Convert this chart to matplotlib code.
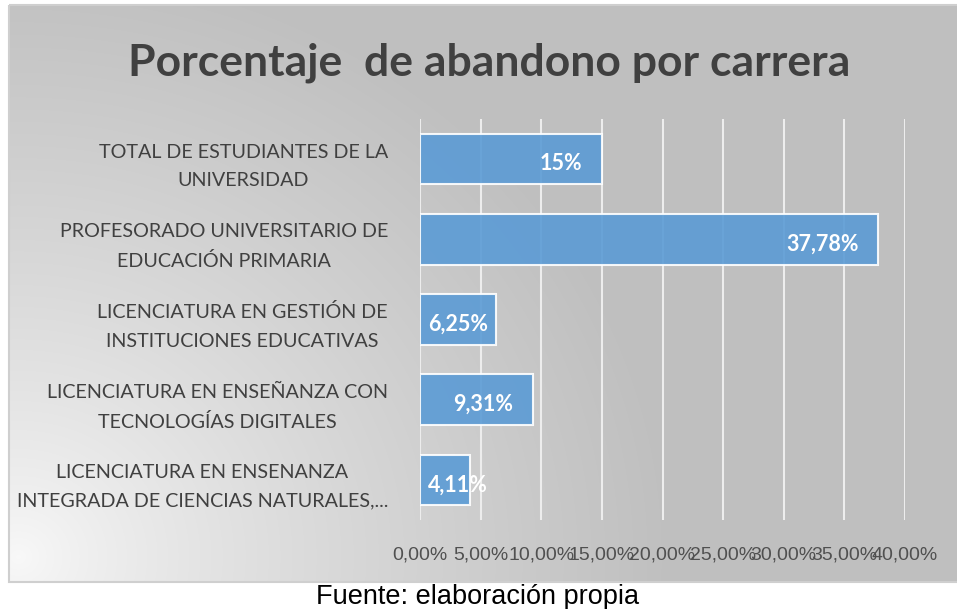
import numpy as np
import matplotlib.pyplot as plt
from matplotlib.patches import Rectangle

# datos
carreras = [
    'TOTAL DE ESTUDIANTES DE LA\nUNIVERSIDAD',
    'PROFESORADO UNIVERSITARIO DE\nEDUCACIÓN PRIMARIA',
    'LICENCIATURA EN GESTIÓN DE\nINSTITUCIONES EDUCATIVAS',
    'LICENCIATURA EN ENSEÑANZA CON\nTECNOLOGÍAS DIGITALES',
    'LICENCIATURA EN ENSENANZA\nINTEGRADA DE CIENCIAS NATURALES,...',
]
abandono = [15.0, 37.78, 6.25, 9.31, 4.11]
etiquetas = ['15%', '37,78%', '6,25%', '9,31%', '4,11%']
ticks_x = [0, 5, 10, 15, 20, 25, 30, 35, 40]
ticks_txt = ['0,00%', '5,00%', '10,00%', '15,00%', '20,00%', '25,00%', '30,00%', '35,00%', '40,00%']

W, H = 957, 609
fig = plt.figure(figsize=(W / 100, H / 100), dpi=100)

# fondo degradado (claro abajo a la izquierda, gris arriba a la derecha)
fondo = fig.add_axes([0, 0, 1, 1])
fondo.set_xlim(0, W)
fondo.set_ylim(H, 0)
fondo.axis('off')
xx, yy = np.meshgrid(np.arange(W), np.arange(H))
d = np.sqrt((xx - 9) ** 2 + ((582 - yy) * 1.05) ** 2)
t = np.clip(d / 660, 0, 1) ** 0.8
gris = 0.975 * (1 - t) + 0.75 * t
img = np.dstack([gris, gris, gris])
fondo.imshow(img, extent=(9, W, 582, 5), zorder=0, aspect='auto')
fondo.add_patch(Rectangle((9, 5), W, 577, fill=False, edgecolor='#CFCFCF', lw=1.5, zorder=1))

fondo.text(489, 63, 'Porcentaje  de abandono por carrera', ha='center', va='center',
           fontsize=32, fontweight='bold', color='#404040', family='Lato')
fondo.text(478, 597, 'Fuente: elaboración propia', ha='center', va='center',
           fontsize=19.5, color='black', family='Liberation Sans')

# gráfico de barras
ax = fig.add_axes([420 / W, 1 - 520 / H, 485 / W, 401 / H])
ax.patch.set_alpha(0)
y = np.arange(len(carreras))
ax.barh(y, abandono, height=0.63, color='#5B9BD5', alpha=0.9, edgecolor='white', linewidth=1.5, zorder=3)
ax.set_xlim(0, 40)
ax.set_ylim(len(carreras) - 0.5, -0.5)
ax.set_xticks(ticks_x)
ax.set_xticklabels(ticks_txt, fontsize=14, color='#505050', family='Liberation Sans')
ax.set_yticks(y)
ax.set_yticklabels(carreras, fontsize=14.2, color='#404040', family='Lato',
                   multialignment='center', linespacing=1.8)
ax.tick_params(axis='x', length=0, pad=19)
ax.tick_params(axis='y', length=0, pad=23)
ax.grid(axis='x', color='#EDEDED', linewidth=1.5, zorder=1)
for s in ax.spines.values():
    s.set_visible(False)

for yi, v, txt in zip(y, abandono, etiquetas):
    ax.text(max(v - 1.6, 5.6), yi + 0.06, txt, ha='right', va='center',
            fontsize=15.5, fontweight='bold', color='white', family='Lato', zorder=4)

fig.savefig('out.png', dpi=100)
